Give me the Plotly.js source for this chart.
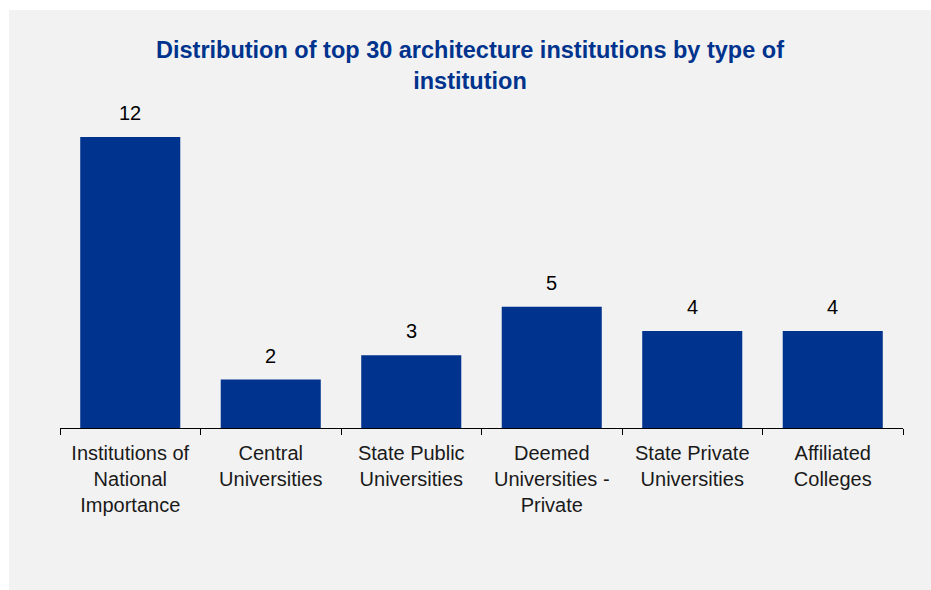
<!DOCTYPE html>
<html>
<head>
<meta charset="utf-8">
<script src="https://cdn.plot.ly/plotly-3.0.1.min.js"></script>
<style>
html,body{margin:0;padding:0;background:#ffffff;}
#chart{position:absolute;left:9px;top:10px;width:922px;height:580px;}
</style>
</head>
<body>
<div id="chart"></div>
<script>
const categories = [
  "Institutions of<br>National<br>Importance",
  "Central<br>Universities",
  "State Public<br>Universities",
  "Deemed<br>Universities -<br>Private",
  "State Private<br>Universities",
  "Affiliated<br>Colleges"
];
const counts = [12, 2, 3, 5, 4, 4];
const titleText = "Distribution of top 30 architecture institutions by type of<br>institution";

const barColor = "#00338D";
const fontFam = "Liberation Sans, Arial, sans-serif";

const trace = {
  type: "bar",
  x: categories,
  y: counts,
  marker: {color: barColor},
  hoverinfo: "none"
};

const annotations = categories.map((c, i) => ({
  x: c, y: counts[i], xref: "x", yref: "y",
  text: String(counts[i]),
  showarrow: false, yanchor: "bottom", yshift: 11,
  font: {family: fontFam, size: 20, color: "#000000"}
}));

const layout = {
  paper_bgcolor: "#f2f2f2",
  plot_bgcolor: "#f2f2f2",
  width: 922, height: 580,
  margin: {l: 51, r: 28, t: 90, b: 162},
  bargap: 0.288,
  showlegend: false,
  title: {
    text: titleText,
    x: 0.5, xref: "container", xanchor: "center",
    y: 0.917, yref: "container", yanchor: "top",
    font: {family: fontFam, size: 23.5, color: "#00338D", weight: "bold"}
  },
  xaxis: {
    type: "category",
    range: [-0.5, 5.5],
    tickson: "boundaries",
    ticks: "outside", ticklen: 6, tickcolor: "#000000", tickwidth: 1,
    ticklabelstandoff: 7,
    showline: true, linecolor: "#000000", linewidth: 1,
    showgrid: false,
    tickfont: {family: fontFam, size: 20, color: "#1a1a1a"}
  },
  yaxis: {
    range: [0, 13.53],
    visible: false,
    showgrid: false, zeroline: false
  },
  annotations: annotations
};

Plotly.newPlot("chart", [trace], layout, {displayModeBar: false, staticPlot: true});
</script>
</body>
</html>
